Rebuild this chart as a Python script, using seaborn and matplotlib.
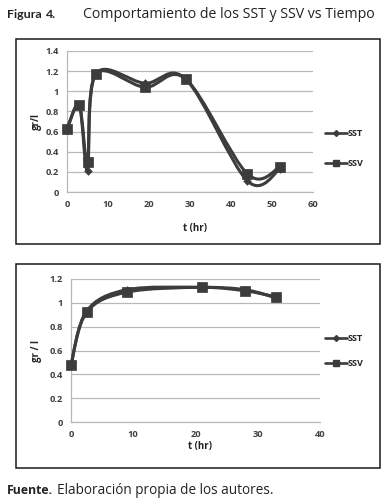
import numpy as np
import matplotlib
matplotlib.use("Agg")
import matplotlib.pyplot as plt
import seaborn as sns
from matplotlib.path import Path
from matplotlib.patches import PathPatch, Rectangle
from matplotlib.lines import Line2D

# data
t_top = [0, 3, 5, 7, 19, 29, 44, 52]
sst_top = [0.62, 0.86, 0.21, 1.17, 1.08, 1.12, 0.11, 0.23]
ssv_top = [0.63, 0.86, 0.30, 1.17, 1.04, 1.12, 0.18, 0.25]

t_bot = [0, 2.5, 9, 21, 28, 33]
sst_bot = [0.48, 0.93, 1.11, 1.13, 1.11, 1.04]
ssv_bot = [0.48, 0.92, 1.09, 1.13, 1.10, 1.05]

LINE = "#3c3c3c"
TICK = "#404040"

sns.set_style("white")
plt.rcParams["font.family"] = ["Open Sans", "DejaVu Sans"]

W, H = 386, 501
fig = plt.figure(figsize=(W / 100, H / 100), dpi=100)


def fx(px):
    return px / W


def fy(py):
    return 1 - py / H


def smooth_path(x, y):
    # Excel-style smoothed line: cubic Bezier with 1/6 tangent factor
    pts = np.column_stack([x, y]).astype(float)
    n = len(pts)
    verts = [pts[0]]
    codes = [Path.MOVETO]
    for i in range(n - 1):
        p0 = pts[max(i - 1, 0)]
        p1 = pts[i]
        p2 = pts[i + 1]
        p3 = pts[min(i + 2, n - 1)]
        c1 = p1 + (p2 - p0) / 6
        c2 = p2 - (p3 - p1) / 6
        verts += [c1, c2, p2]
        codes += [Path.CURVE4] * 3
    return Path(verts, codes)


def panel(box, area, t, sst, ssv, xmax, ymax, ylabel, xlab_y, ylab_x, leg_y, leg_sp):
    # outer frame
    x0, y0, x1, y1 = box
    fig.patches.append(Rectangle((fx(x0), fy(y1)), fx(x1 - x0), (y1 - y0) / H,
                                 transform=fig.transFigure, fill=False,
                                 edgecolor="#1a1a1a", linewidth=1.1))
    l, t_, r, b = area
    ax = fig.add_axes([fx(l), fy(b), fx(r - l), (b - t_) / H])
    for vals in [sst, ssv]:
        ax.add_patch(PathPatch(smooth_path(t, vals), fill=False, clip_on=False,
                               edgecolor=LINE, linewidth=2.2, zorder=3))
    sns.scatterplot(x=t, y=sst, marker="D", s=16, color=LINE, edgecolor=LINE,
                    ax=ax, zorder=4, legend=False, clip_on=False)
    sns.scatterplot(x=t, y=ssv, marker="s", s=42, color=LINE, edgecolor=LINE,
                    ax=ax, zorder=4, legend=False, clip_on=False)
    ax.set_xlim(0, xmax)
    ax.set_ylim(0, ymax)
    ax.set_yticks(np.arange(0, ymax + 0.01, 0.2))
    ax.set_xticks(np.arange(0, xmax + 1, 10))
    ax.yaxis.set_major_formatter(plt.FuncFormatter(lambda v, p: f"{v:g}"))
    ax.grid(axis="y", color="#b8b8b8", linewidth=0.9)
    ax.grid(axis="x", visible=False)
    for s in ["top", "right"]:
        ax.spines[s].set_visible(False)
    for s in ["left", "bottom"]:
        ax.spines[s].set_color("#b8b8b8")
        ax.spines[s].set_linewidth(0.9)
    ax.tick_params(length=0, labelsize=6.7, colors=TICK, pad=6)
    for lab in ax.get_xticklabels() + ax.get_yticklabels():
        lab.set_fontweight("bold")
    ax.set_xlabel("")
    ax.set_ylabel("")
    fig.text(fx((l + r) / 2 + 5), fy(xlab_y), "t (hr)",
             ha="center", va="center", fontsize=7, fontweight="bold", color="#222222")
    fig.text(fx(ylab_x), fy((t_ + b) / 2), ylabel, rotation=90, ha="center",
             va="center", fontsize=7, fontweight="bold", color="#222222")
    handles = [Line2D([], [], color=LINE, lw=1.9, marker="D", markersize=3, label="SST"),
               Line2D([], [], color=LINE, lw=1.9, marker="s", markersize=5, label="SSV")]
    fig.legend(handles=handles, loc="center left", bbox_to_anchor=(fx(325), fy(leg_y)),
               frameon=False, handlelength=2.4, handletextpad=0.05,
               labelspacing=leg_sp, borderaxespad=0, borderpad=0,
               prop={"weight": "bold", "size": 6.5})
    return ax


panel((16, 39, 380, 244), (67, 51, 313, 192), t_top, sst_top, ssv_top, 60, 1.4,
      "gr/l", 228, 36, 148.5, 2.3)
panel((16, 264, 380, 468), (71, 279, 320, 422), t_bot, sst_bot, ssv_bot, 40, 1.2,
      "gr / l", 446, 37, 351, 1.75)

fig.text(fx(7), fy(15), "Figura", fontsize=8.9, fontweight="bold",
         color="#222222", va="center", family=["Lato", "DejaVu Sans"])
fig.text(fx(46), fy(15), "4.", fontsize=8.9, fontweight="bold",
         color="#222222", va="center", family=["Lato", "DejaVu Sans"])
fig.text(fx(83), fy(15), "Comportamiento de los SST y SSV vs Tiempo", fontsize=10.2,
         color="#222222", va="center")
fig.text(fx(7), fy(491), "Fuente.", fontsize=8.8, fontweight="bold",
         color="#222222", va="center")
fig.text(fx(57), fy(491), "Elaboración propia de los autores.", fontsize=9.8,
         color="#222222", va="center")

fig.savefig("out.png", dpi=100)
